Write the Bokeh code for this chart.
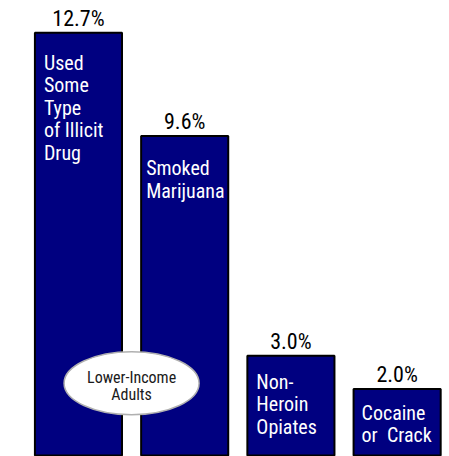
from bokeh.plotting import figure
from bokeh.models import ColumnDataSource, Range1d
from bokeh.core.properties import value
from bokeh.embed import file_html
from bokeh.resources import INLINE

# data
categories = ["Used\nSome\nType\nof Illicit\nDrug", "Smoked\nMarijuana", "Non-\nHeroin\nOpiates", "Cocaine\nor\u00a0 Crack"]
percent = [12.7, 9.6, 3.0, 2.0]
value_labels = ["12.7%", "9.6%", "3.0%", "2.0%"]
group_label = "Lower-Income\nAdults"

# layout / style
FONT = "Roboto Condensed"
NAVY = "#000080"
bar_w = 0.82
xs = list(range(len(percent)))
in_dx = [9, 5, 9, 8]
in_dy = [18, 20, 14, 12]

p = figure(width=449, height=456, output_backend="svg", toolbar_location=None,
           x_range=Range1d(-0.734, 3.493), y_range=Range1d(-0.03, 13.67),
           min_border=0, outline_line_color=None, background_fill_color="white",
           border_fill_color="white")
p.axis.visible = False
p.grid.visible = False

src = ColumnDataSource(dict(
    x=xs, top=percent, lab=value_labels, cat=categories,
    left=[x - bar_w / 2 for x in xs], dx=in_dx, dy=in_dy,
))

p.vbar(x="x", top="top", bottom=0, width=bar_w, source=src,
       fill_color=NAVY, line_color="black", line_width=2)

p.text(x="x", y="top", text="lab", source=src, text_align="center",
       text_baseline="bottom", y_offset=-2,
       text_font=value(FONT), text_font_size="22px", text_color="black")

p.text(x="left", y="top", text="cat", source=src, text_align="left",
       text_baseline="top", x_offset="dx", y_offset="dy",
       text_font=value(FONT), text_font_size="20px", text_color="white",
       text_line_height=0.94)

# oval label between first two bars
ex = (xs[0] + xs[1]) / 2
ey = 2.17
p.ellipse(x=[ex], y=[ey], width=135, height=63, width_units="screen",
          height_units="screen", fill_color="white", line_color="#b0b0b0",
          line_width=1.5)
p.text(x=[ex], y=[ey], text=[group_label], text_align="center",
       text_baseline="middle", y_offset=3, text_font=value(FONT), text_font_size="16px",
       text_color="#1a1a1a", text_line_height=0.9)

open("out.html", "w").write(file_html(p, INLINE))
